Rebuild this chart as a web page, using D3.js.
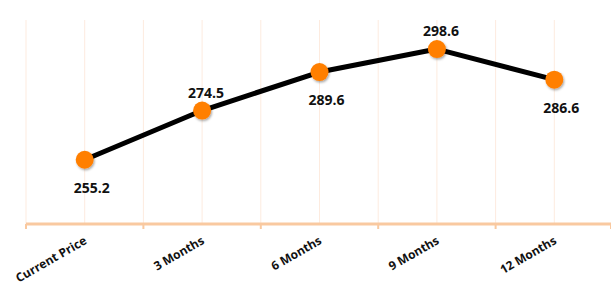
<!DOCTYPE html>
<html>
<head>
<meta charset="utf-8">
<script src="https://cdn.jsdelivr.net/npm/d3@7"></script>
<style>
  body { margin: 0; background: #fff; }
  svg text { font-family: "Open Sans", "Liberation Sans", sans-serif; font-weight: bold; }
</style>
</head>
<body>
<div class="chart"></div>
<script>
// forecast values
var categories = ["Current Price", "3 Months", "6 Months", "9 Months", "12 Months"];
var prices = [255.2, 274.5, 289.6, 298.6, 286.6];
var labelSide = ["below", "above", "below", "above", "below"];

var width = 611, height = 287;
var plotLeft = 26, plotRight = 613, plotTop = 20, plotBottom = 224;

var svg = d3.select(".chart").append("svg")
  .attr("width", width)
  .attr("height", height);

var x = d3.scaleBand().domain(categories).range([plotLeft, plotRight]);
var y = d3.scaleLinear().domain([230, 310]).range([plotBottom, plotTop]);

// shadow for the markers
var defs = svg.append("defs");
var f = defs.append("filter").attr("id", "shadow").attr("x", "-50%").attr("y", "-50%").attr("width", "200%").attr("height", "200%");
f.append("feDropShadow").attr("dx", 1).attr("dy", 1.5).attr("stdDeviation", 1.2).attr("flood-color", "#000").attr("flood-opacity", 0.35);

// vertical gridlines at band edges and centres
var gridX = [];
categories.forEach(function(c) {
  gridX.push(x(c));
  gridX.push(x(c) + x.bandwidth() / 2);
});
svg.selectAll("line.grid")
  .data(gridX)
  .enter().append("line")
  .attr("class", "grid")
  .attr("x1", function(d) { return d; })
  .attr("x2", function(d) { return d; })
  .attr("y1", plotTop)
  .attr("y2", plotBottom)
  .style("stroke", "#fdebdf")
  .style("stroke-width", 1);

// x axis
var xAxis = d3.axisBottom(x).tickSize(0).tickFormat("");
var gx = svg.append("g").attr("transform", "translate(0," + plotBottom + ")").call(xAxis);
gx.select(".domain").remove();
gx.append("line")
  .attr("x1", plotLeft).attr("x2", width)
  .style("stroke", "#f9c9a0").style("stroke-width", 3);
var edges = categories.map(function(c) { return x(c); }).concat([plotRight - 2]);
gx.selectAll("line.tk")
  .data(edges)
  .enter().append("line")
  .attr("class", "tk")
  .attr("x1", function(d) { return d; })
  .attr("x2", function(d) { return d; })
  .attr("y1", 0).attr("y2", 5)
  .style("stroke", "#f9c9a0").style("stroke-width", 2);

// category labels, rotated
svg.selectAll("text.cat")
  .data(categories)
  .enter().append("text")
  .attr("class", "cat")
  .attr("text-anchor", "end")
  .attr("font-size", 12)
  .attr("fill", "#111")
  .attr("transform", function(d) {
    return "translate(" + (x(d) + x.bandwidth() / 2 + 3) + "," + 243 + ") rotate(-30)";
  })
  .text(function(d) { return d; });

// the line
var line = d3.line()
  .x(function(d, i) { return x(categories[i]) + x.bandwidth() / 2; })
  .y(function(d) { return y(d); });

svg.append("path")
  .datum(prices)
  .attr("d", line)
  .style("fill", "none")
  .style("stroke", "#000")
  .style("stroke-width", 5)
  .style("stroke-linejoin", "round");

// markers
svg.selectAll("circle")
  .data(prices)
  .enter().append("circle")
  .attr("cx", function(d, i) { return x(categories[i]) + x.bandwidth() / 2; })
  .attr("cy", function(d) { return y(d); })
  .attr("r", 9)
  .attr("filter", "url(#shadow)")
  .style("fill", "#ff7f00");

// value labels
svg.selectAll("text.val")
  .data(prices)
  .enter().append("text")
  .attr("class", "val")
  .attr("text-anchor", "middle")
  .attr("font-size", 14)
  .attr("fill", "#111")
  .attr("x", function(d, i) { return x(categories[i]) + x.bandwidth() / 2 + (labelSide[i] == "above" ? 4 : 7); })
  .attr("y", function(d, i) { return labelSide[i] == "above" ? y(d) - 13 : y(d) + 33; })
  .text(function(d) { return d.toFixed(1); });
</script>
</body>
</html>
